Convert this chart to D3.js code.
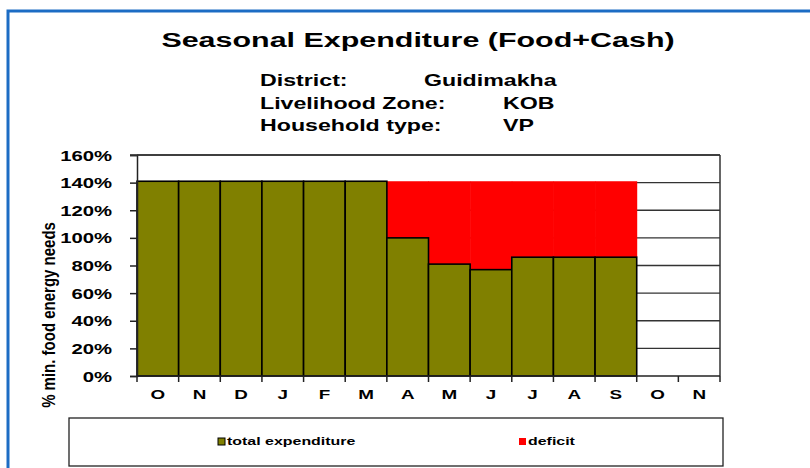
<!DOCTYPE html>
<html>
<head>
<meta charset="utf-8">
<script src="https://cdn.jsdelivr.net/npm/d3@7"></script>
<style>
  body { margin: 0; background: #fff; }
  text { font-family: "Liberation Sans", Arial, sans-serif; font-weight: bold; fill: #000; }
</style>
</head>
<body>
<svg width="810" height="468"></svg>
<script>
var svg = d3.select("svg"),
    width = +svg.attr("width"),
    height = +svg.attr("height");

// data
var months = ["O", "N", "D", "J", "F", "M", "A", "M", "J", "J", "A", "S", "O", "N"];
var totalExpenditure = [141, 141, 141, 141, 141, 141, 100, 81, 77, 86, 86, 86, 0, 0];
var deficit = [0, 0, 0, 0, 0, 0, 41, 60, 64, 55, 55, 55, 0, 0];
var yTicks = [0, 20, 40, 60, 80, 100, 120, 140, 160];
var infoLabels = ["District:", "Livelihood Zone:", "Household type:"];
var infoValues = ["Guidimakha", "KOB", "VP"];

var margin = {left: 137, right: 90, top: 155, bottom: 92};
var sx = 1.45; // the original picture is stretched sideways

var x = d3.scaleBand()
    .domain(d3.range(months.length))
    .range([margin.left, width - margin.right])
    .padding(0);

var y = d3.scaleLinear()
    .domain([0, 160])
    .range([height - margin.bottom, margin.top]);

// stretched text helper
function wideText(parent, tx, ty, str, size, anchor) {
    return parent.append("text")
        .attr("transform", "translate(" + tx + "," + ty + ") scale(" + sx + ",1)")
        .attr("text-anchor", anchor || "start")
        .style("font-size", size + "px")
        .text(str);
}

// outer blue frame
svg.append("rect")
    .attr("x", 8).attr("y", 11)
    .attr("width", 820).attr("height", 480)
    .attr("fill", "none")
    .attr("stroke", "#1c6cc4")
    .attr("stroke-width", 3);

// title + info block
wideText(svg, 418, 47, "Seasonal Expenditure (Food+Cash)", 21, "middle");

infoLabels.forEach(function (d, i) {
    wideText(svg, 260, 86 + i * 22.5, d, 16);
    wideText(svg, i === 0 ? 424 : 503, 86 + i * 22.5, infoValues[i], 16);
});

// gridlines
svg.append("g")
    .selectAll("line")
    .data(yTicks.slice(1))
    .enter().append("line")
    .attr("x1", margin.left).attr("x2", width - margin.right)
    .attr("y1", function (d) { return y(d); })
    .attr("y2", function (d) { return y(d); })
    .attr("stroke", "#333")
    .attr("stroke-width", 1.3);

// right frame edge
svg.append("line")
    .attr("x1", width - margin.right).attr("x2", width - margin.right)
    .attr("y1", y(160)).attr("y2", y(0))
    .attr("stroke", "#333")
    .attr("stroke-width", 1.5);

// deficit bars (stacked on top)
svg.append("g")
    .selectAll("rect")
    .data(deficit)
    .enter().append("rect")
    .attr("x", function (d, i) { return x(i); })
    .attr("y", function (d, i) { return y(totalExpenditure[i] + d); })
    .attr("width", x.bandwidth() + 0.5)
    .attr("height", function (d) { return y(0) - y(d); })
    .attr("fill", "#ff0000");

// total expenditure bars
svg.append("g")
    .selectAll("rect")
    .data(totalExpenditure)
    .enter().append("rect")
    .attr("x", function (d, i) { return x(i); })
    .attr("y", function (d) { return y(d); })
    .attr("width", x.bandwidth())
    .attr("height", function (d) { return y(0) - y(d); })
    .attr("fill", "#808000")
    .attr("stroke", function (d) { return d > 0 ? "#000" : "none"; })
    .attr("stroke-width", 1.6);

// y axis
var yAxis = svg.append("g")
    .attr("transform", "translate(" + margin.left + ",0)")
    .call(d3.axisLeft(y).tickValues(yTicks).tickSize(7).tickPadding(18)
        .tickFormat(function (d) { return d + "%"; }));
yAxis.select(".domain").attr("stroke", "#222").attr("stroke-width", 1.5);
yAxis.selectAll(".tick line").attr("stroke", "#222").attr("stroke-width", 1.5);
yAxis.selectAll("text")
    .attr("font-family", null)
    .attr("font-size", null)
    .style("font-size", "14px")
    .attr("x", -25 / sx)
    .attr("dy", "0.36em")
    .attr("transform", "scale(" + sx + ",1)");

// top frame edge
svg.append("line")
    .attr("x1", margin.left - 7).attr("x2", width - margin.right)
    .attr("y1", y(160)).attr("y2", y(160))
    .attr("stroke", "#333")
    .attr("stroke-width", 1.5);

// x axis
var xb = d3.scaleLinear().domain([0, months.length]).range([margin.left, width - margin.right]);
var xAxis = svg.append("g")
    .attr("transform", "translate(0," + y(0) + ")");
xAxis.append("line")
    .attr("x1", margin.left).attr("x2", width - margin.right)
    .attr("stroke", "#222").attr("stroke-width", 1.5);
xAxis.selectAll(".tk")
    .data(d3.range(months.length + 1))
    .enter().append("line")
    .attr("class", "tk")
    .attr("x1", function (d) { return xb(d); })
    .attr("x2", function (d) { return xb(d); })
    .attr("y1", 0).attr("y2", 6)
    .attr("stroke", "#222").attr("stroke-width", 1.5);
months.forEach(function (m, i) {
    wideText(xAxis, x(i) + x.bandwidth() / 2, 23, m, 13, "middle");
});

// y title, rotated: local y maps to screen x, so stretch that
svg.append("text")
    .attr("transform", "translate(55,315) rotate(-90) scale(1,1.25)")
    .attr("text-anchor", "middle")
    .style("font-size", "15px")
    .text("% min. food energy needs");

// legend
var legend = svg.append("g");
legend.append("rect")
    .attr("x", 69).attr("y", 418)
    .attr("width", 654).attr("height", 48)
    .attr("fill", "#fff")
    .attr("stroke", "#222")
    .attr("stroke-width", 1.3);

var legendItems = [
    {label: "total expenditure", color: "#808000", stroke: "#000", x: 218},
    {label: "deficit", color: "#ff0000", stroke: "none", x: 519}
];
legendItems.forEach(function (d) {
    legend.append("rect")
        .attr("x", d.x).attr("y", 438)
        .attr("width", 7).attr("height", 7)
        .attr("fill", d.color)
        .attr("stroke", d.stroke);
    wideText(legend, d.x + 9, 445, d.label, 11);
});
</script>
</body>
</html>
